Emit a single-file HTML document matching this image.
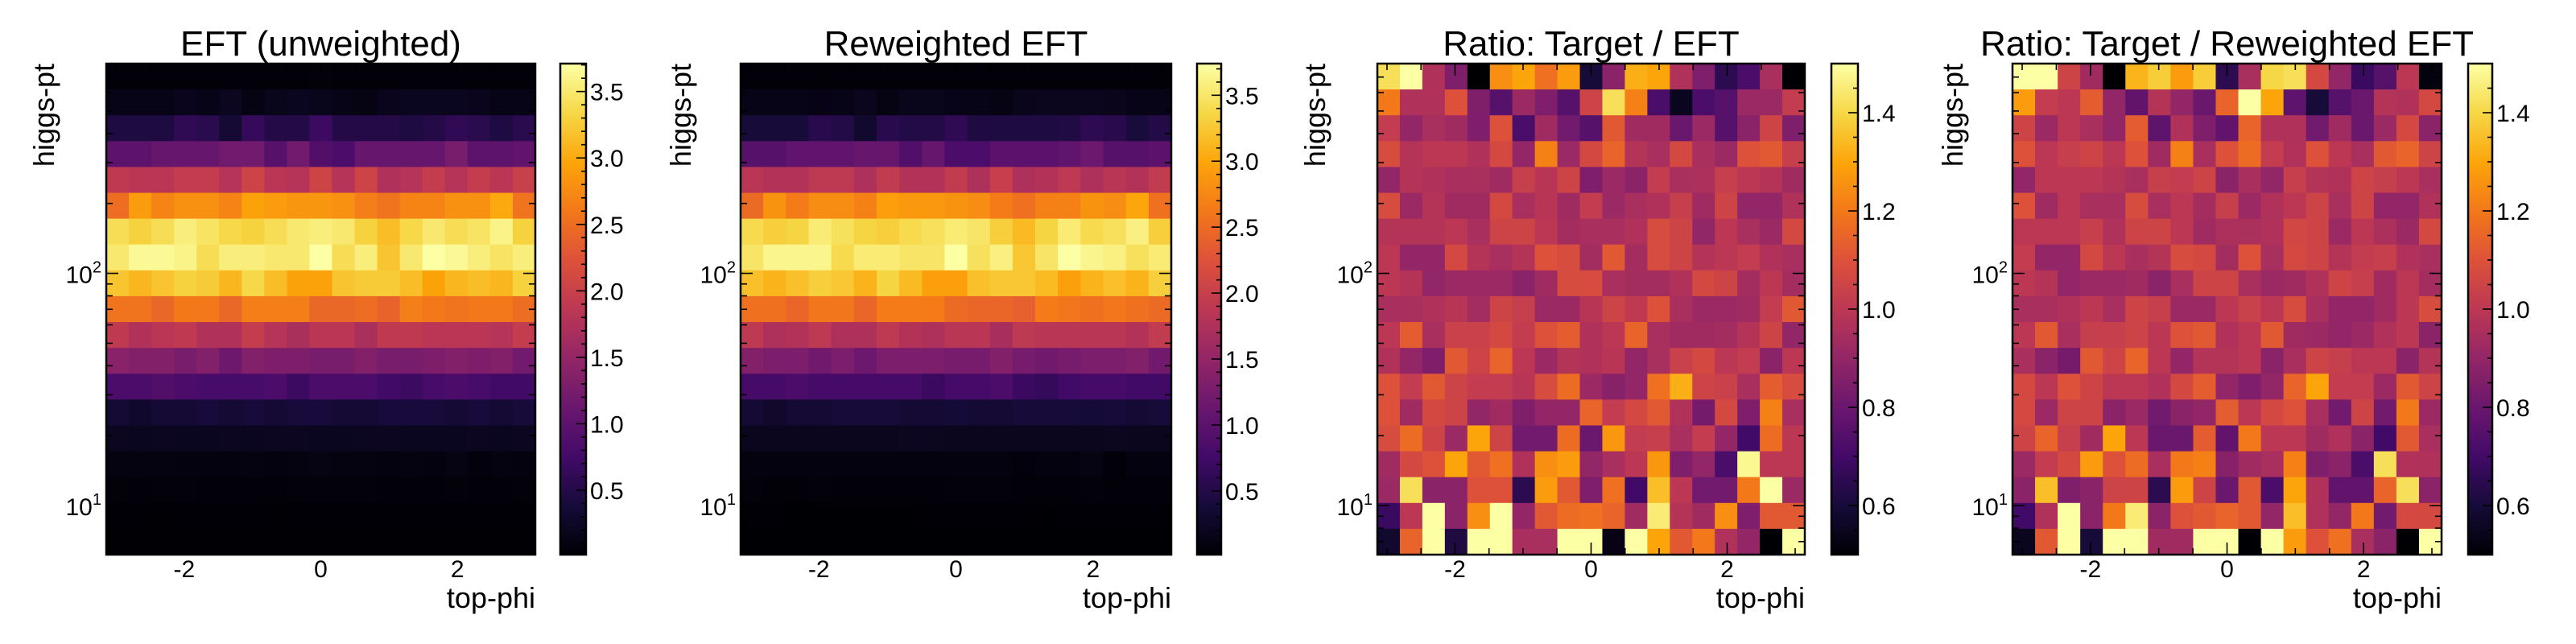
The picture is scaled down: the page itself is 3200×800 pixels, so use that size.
<!DOCTYPE html>
<html><head><meta charset="utf-8"><style>
html,body{margin:0;padding:0;background:#fff;}
svg{display:block;font-family:"Liberation Sans",Arial,sans-serif;}
</style></head><body>
<svg id="fig" width="3200" height="800" viewBox="0 0 3200 800" xmlns="http://www.w3.org/2000/svg"></svg>
<script>
// ---------- data (rows top -> bottom, i.e. high higgs-pt first; 19 x 19 bins) ----------
const xEdgesMin = -Math.PI, xEdgesMax = Math.PI;
const yMin = 6.15, yMax = 800;
const nBins = 19;
const xTickValues = [-2, 0, 2];
const xTickLabels = ["-2", "0", "2"];
const yTickExp = [1, 2];
const cbTicksEFT = [0.5, 1.0, 1.5, 2.0, 2.5, 3.0, 3.5];
const cbTicksEFTLabels = ["0.5", "1.0", "1.5", "2.0", "2.5", "3.0", "3.5"];
const cbTicksRatio = [0.6, 0.8, 1.0, 1.2, 1.4];
const cbTicksRatioLabels = ["0.6", "0.8", "1.0", "1.2", "1.4"];
const titles = ["EFT (unweighted)", "Reweighted EFT", "Ratio: Target / EFT", "Ratio: Target / Reweighted EFT"];

const eftUnweighted = [
[0.05,0.05,0.05,0.05,0.05,0.05,0.05,0.05,0.05,0.06,0.05,0.05,0.05,0.05,0.05,0.05,0.05,0.05,0.05],
[0.15,0.15,0.15,0.18,0.15,0.22,0.12,0.17,0.2,0.17,0.15,0.12,0.18,0.2,0.2,0.2,0.18,0.15,0.15],
[0.45,0.45,0.45,0.6,0.55,0.35,0.65,0.5,0.5,0.7,0.5,0.5,0.5,0.45,0.5,0.6,0.55,0.45,0.55],
[1.0,1.0,1.1,1.1,1.1,1.2,1.2,0.95,1.2,0.9,0.85,1.1,1.1,1.1,1.1,1.25,1.0,1.0,1.05],
[1.9,1.85,1.85,1.95,1.95,1.8,2.05,1.85,1.8,2.05,1.8,2.05,1.75,1.8,1.95,1.8,1.95,1.85,2.0],
[2.5,2.9,2.7,2.8,2.8,2.7,2.95,2.9,2.85,2.85,2.8,2.65,2.55,2.7,2.7,2.8,2.8,3.0,2.55],
[3.4,3.3,3.4,3.55,3.45,3.35,3.3,3.4,3.5,3.55,3.5,3.3,3.15,3.35,3.5,3.4,3.45,3.6,3.3],
[3.5,3.65,3.65,3.6,3.4,3.55,3.55,3.5,3.5,3.75,3.4,3.55,3.2,3.5,3.75,3.65,3.55,3.45,3.55],
[3.2,3.1,3.2,3.3,3.25,3.1,3.35,3.15,2.95,2.95,3.2,3.25,3.25,3.15,2.95,3.1,3.15,3.1,3.3],
[2.55,2.55,2.45,2.6,2.6,2.45,2.65,2.65,2.65,2.45,2.45,2.5,2.4,2.65,2.6,2.55,2.6,2.6,2.5],
[1.9,1.75,1.85,1.9,1.75,1.75,1.95,1.8,1.7,1.85,1.85,1.7,1.9,1.9,1.85,1.85,1.85,1.8,1.95],
[1.4,1.35,1.35,1.25,1.35,1.15,1.35,1.3,1.3,1.25,1.25,1.35,1.25,1.25,1.3,1.35,1.3,1.35,1.2],
[0.85,0.85,0.9,0.85,0.8,0.8,0.8,0.85,0.7,0.85,0.85,0.85,0.75,0.7,0.8,0.85,0.8,0.75,0.75],
[0.35,0.3,0.35,0.35,0.4,0.35,0.4,0.35,0.4,0.4,0.35,0.35,0.4,0.4,0.4,0.35,0.4,0.35,0.4],
[0.22,0.2,0.22,0.2,0.2,0.22,0.2,0.22,0.22,0.2,0.2,0.22,0.22,0.2,0.2,0.2,0.22,0.2,0.22],
[0.1,0.1,0.1,0.09,0.09,0.09,0.1,0.09,0.1,0.11,0.1,0.1,0.09,0.1,0.09,0.12,0.07,0.1,0.09],
[0.06,0.05,0.06,0.06,0.05,0.05,0.05,0.05,0.06,0.06,0.06,0.06,0.05,0.05,0.05,0.06,0.05,0.05,0.06],
[0.03,0.03,0.02,0.03,0.03,0.03,0.03,0.02,0.03,0.03,0.03,0.03,0.03,0.03,0.03,0.03,0.03,0.03,0.03],
[0.02,0.02,0.02,0.02,0.02,0.02,0.02,0.02,0.02,0.02,0.02,0.02,0.02,0.02,0.02,0.02,0.02,0.02,0.02]
];
const eftReweighted = [
[0.05,0.05,0.05,0.05,0.05,0.05,0.05,0.05,0.05,0.05,0.05,0.05,0.05,0.05,0.05,0.05,0.05,0.05,0.05],
[0.15,0.15,0.15,0.13,0.15,0.2,0.12,0.17,0.17,0.15,0.15,0.12,0.18,0.2,0.2,0.2,0.18,0.15,0.15],
[0.4,0.4,0.4,0.55,0.5,0.32,0.55,0.5,0.5,0.62,0.45,0.45,0.45,0.45,0.48,0.58,0.55,0.42,0.5],
[0.95,0.95,1.05,1.05,1.05,1.1,1.1,0.9,1.1,0.85,0.85,1.0,1.0,1.0,1.05,1.15,0.95,0.95,1.0],
[1.85,1.8,1.8,1.9,1.9,1.75,1.95,1.8,1.8,1.95,1.75,2.0,1.75,1.8,1.9,1.75,1.85,1.8,1.95],
[2.5,2.85,2.65,2.8,2.8,2.7,2.95,2.9,2.9,2.85,2.8,2.65,2.55,2.7,2.7,2.85,2.8,3.0,2.55],
[3.4,3.3,3.35,3.55,3.45,3.35,3.3,3.4,3.45,3.55,3.5,3.3,3.15,3.35,3.55,3.4,3.45,3.6,3.3],
[3.5,3.65,3.65,3.65,3.4,3.55,3.55,3.5,3.5,3.75,3.45,3.6,3.25,3.5,3.75,3.65,3.6,3.45,3.55],
[3.2,3.1,3.2,3.3,3.25,3.1,3.35,3.15,2.95,2.95,3.2,3.25,3.25,3.15,2.95,3.1,3.2,3.1,3.3],
[2.55,2.55,2.45,2.6,2.6,2.45,2.65,2.65,2.65,2.5,2.45,2.45,2.4,2.65,2.6,2.55,2.6,2.55,2.5],
[1.9,1.75,1.8,1.9,1.75,1.75,1.9,1.8,1.75,1.85,1.85,1.7,1.9,1.85,1.85,1.85,1.85,1.8,1.95],
[1.35,1.3,1.3,1.2,1.3,1.15,1.3,1.3,1.3,1.25,1.25,1.35,1.25,1.2,1.25,1.3,1.3,1.35,1.2],
[0.8,0.8,0.85,0.8,0.8,0.8,0.8,0.8,0.7,0.8,0.8,0.85,0.7,0.65,0.75,0.8,0.8,0.75,0.75],
[0.35,0.3,0.35,0.35,0.4,0.4,0.4,0.35,0.35,0.38,0.35,0.35,0.4,0.4,0.4,0.38,0.4,0.35,0.4],
[0.2,0.2,0.2,0.2,0.2,0.2,0.2,0.22,0.22,0.2,0.2,0.2,0.2,0.2,0.2,0.2,0.22,0.2,0.2],
[0.1,0.1,0.1,0.09,0.09,0.09,0.09,0.09,0.1,0.1,0.1,0.1,0.07,0.1,0.09,0.12,0.05,0.1,0.09],
[0.06,0.04,0.04,0.06,0.05,0.05,0.05,0.05,0.05,0.06,0.06,0.06,0.05,0.05,0.05,0.07,0.05,0.05,0.05],
[0.03,0.03,0.02,0.02,0.02,0.02,0.02,0.02,0.03,0.03,0.03,0.03,0.03,0.02,0.03,0.03,0.03,0.03,0.03],
[0.02,0.02,0.02,0.02,0.02,0.02,0.02,0.02,0.02,0.02,0.02,0.02,0.02,0.02,0.02,0.02,0.02,0.02,0.02]
];
const ratioEFT = [
[1.42,1.5,0.97,0.85,0.5,1.25,1.3,1.18,1.28,0.6,0.88,1.32,1.3,0.97,0.85,0.65,0.72,0.95,0.5],
[1.2,0.97,0.97,1.1,0.85,0.75,0.92,0.85,0.75,1.05,1.42,1.22,0.72,0.55,0.72,0.75,0.92,0.92,1.02],
[1.02,0.9,0.95,0.93,0.85,1.1,0.72,0.93,0.82,0.75,1.12,0.93,0.93,0.8,0.92,0.75,0.88,1.05,0.85],
[1.08,0.98,1.0,1.0,0.97,1.07,0.9,1.22,0.92,1.07,1.15,0.98,0.95,1.07,0.95,0.92,1.1,1.12,1.03],
[0.9,0.98,0.97,0.95,0.95,0.93,1.03,0.99,1.05,0.85,0.92,0.88,1.02,0.95,0.96,1.03,1.0,0.98,0.93],
[1.08,0.92,0.98,0.93,0.93,1.07,0.95,0.99,0.93,1.02,0.92,0.95,0.97,1.03,0.93,1.05,0.9,0.9,0.97],
[0.98,0.98,0.98,1.0,0.95,1.05,1.05,1.0,0.94,0.95,0.95,0.97,1.08,1.05,0.9,1.0,0.95,0.92,1.07],
[1.0,0.9,0.9,1.07,0.98,0.95,0.98,1.1,1.08,0.94,1.12,0.94,1.08,1.05,0.98,1.0,1.02,0.97,0.95],
[1.0,0.98,0.9,0.92,0.92,0.92,0.88,0.93,1.08,1.08,0.95,0.94,0.94,0.97,1.07,1.05,0.94,1.0,0.94],
[0.95,0.95,0.97,0.99,0.94,1.05,1.03,0.92,0.92,0.99,1.05,1.01,1.1,0.95,0.92,0.92,0.93,1.02,1.12],
[1.0,1.13,0.95,1.04,1.04,1.07,1.02,1.1,1.13,0.97,1.0,1.15,0.95,0.93,0.93,0.94,0.98,1.05,0.9],
[0.97,0.9,0.85,1.12,1.05,1.15,1.0,0.92,0.98,0.97,0.99,0.9,0.95,1.04,1.07,1.0,1.02,0.88,1.0],
[1.1,1.02,1.12,1.05,1.02,1.02,0.99,1.08,1.17,0.92,0.87,0.9,1.18,1.32,1.05,1.04,0.95,1.13,1.08],
[1.1,0.93,1.07,1.05,0.9,0.93,0.85,0.9,0.9,1.15,1.02,1.07,1.12,0.97,0.83,1.07,0.85,1.22,0.95],
[1.08,1.17,1.05,0.92,1.3,1.05,0.82,0.82,1.17,0.8,1.27,1.02,1.03,0.95,1.02,0.9,0.7,1.17,1.0],
[0.93,1.07,1.1,1.3,1.12,1.18,0.97,1.25,1.28,0.9,0.95,1.0,1.27,0.85,0.9,0.72,1.48,1.0,1.0],
[0.92,1.42,0.88,0.88,1.1,1.1,0.65,1.28,1.12,0.85,1.18,0.7,1.35,1.0,0.82,0.82,1.2,1.5,0.92],
[0.68,1.0,1.5,0.88,1.25,1.5,0.9,1.12,1.17,1.18,1.15,0.93,1.45,0.98,0.93,1.25,0.85,1.12,1.12],
[0.58,1.15,1.5,0.62,1.5,1.5,0.95,0.95,1.5,1.5,0.53,1.5,1.3,1.12,1.2,0.97,0.9,0.5,1.5]
];
const ratioReweighted = [
[1.5,1.5,1.05,0.93,0.5,1.33,1.38,1.28,1.38,0.65,0.95,1.4,1.42,1.07,0.9,0.68,0.75,1.0,0.52],
[1.28,1.02,1.0,1.13,0.9,0.78,0.98,0.9,0.8,1.15,1.5,1.3,0.77,0.6,0.75,0.8,0.98,0.97,1.07],
[1.05,0.92,1.0,0.95,0.9,1.13,0.77,0.97,0.85,0.78,1.15,0.97,0.97,0.82,0.93,0.8,0.92,1.07,0.88],
[1.1,1.0,1.03,1.05,1.0,1.1,0.93,1.22,0.95,1.1,1.17,1.02,0.97,1.1,1.0,0.95,1.12,1.15,1.05],
[0.9,1.0,1.0,1.0,0.98,0.95,1.03,1.02,1.05,0.88,0.95,0.9,1.03,0.98,0.97,1.05,1.03,1.0,0.95],
[1.1,0.93,1.0,0.95,0.95,1.08,0.95,1.0,0.94,1.03,0.92,0.97,1.0,1.05,0.95,1.05,0.9,0.9,0.97],
[1.0,1.0,1.0,1.03,0.97,1.05,1.05,1.0,0.93,0.96,0.96,0.97,1.06,1.05,0.92,1.0,0.96,0.92,1.07],
[1.02,0.9,0.9,1.07,1.0,0.95,0.98,1.08,1.07,0.94,1.1,0.95,1.07,1.05,0.98,1.02,1.03,0.97,0.95],
[1.0,0.98,0.9,0.92,0.92,0.93,0.88,0.95,1.05,1.05,0.95,0.92,0.93,0.97,1.05,1.03,0.93,1.0,0.94],
[0.95,0.95,0.97,1.0,0.95,1.05,1.03,0.92,0.92,1.0,1.04,1.0,1.08,0.95,0.9,0.9,0.93,1.0,1.08],
[1.0,1.12,0.95,1.03,1.03,1.05,1.0,1.1,1.12,0.97,1.0,1.12,0.93,0.92,0.9,0.92,0.97,1.0,0.88],
[0.95,0.88,0.83,1.12,1.05,1.15,1.0,0.9,0.98,0.98,1.0,0.88,0.95,1.05,1.03,1.0,1.0,0.88,0.98],
[1.07,1.0,1.1,1.05,1.0,1.0,0.97,1.07,1.13,0.9,0.85,0.9,1.15,1.3,1.02,1.02,0.92,1.12,1.05],
[1.07,0.92,1.05,1.05,0.88,0.92,0.82,0.88,0.9,1.13,1.0,1.07,1.1,0.95,0.82,1.05,0.82,1.2,0.92],
[1.05,1.15,1.03,0.93,1.3,1.0,0.8,0.8,1.13,0.78,1.2,1.0,1.0,0.93,0.97,0.88,0.7,1.12,0.95],
[0.92,1.02,1.07,1.28,1.1,1.17,0.95,1.2,1.22,0.87,0.93,0.95,1.22,0.85,0.88,0.72,1.42,0.97,0.97],
[0.88,1.35,0.85,0.88,1.05,1.05,0.65,1.28,1.05,0.8,1.12,0.72,1.3,0.97,0.78,0.78,1.15,1.42,0.88],
[0.7,0.97,1.5,0.88,1.2,1.45,0.88,1.1,1.12,1.15,1.12,0.9,1.35,0.97,0.9,1.2,0.82,1.07,1.07],
[0.55,1.12,1.5,0.6,1.5,1.5,0.93,0.93,1.5,1.5,0.5,1.5,1.28,1.1,1.18,0.95,0.88,0.5,1.5]
];

// ---------- rendering ----------
const NS = "http://www.w3.org/2000/svg";
const svg = document.getElementById("fig");
const infernoStops = ["#000004","#160b39","#420a68","#6a176e","#932667","#bc3754","#dd513a","#f37819","#fca50a","#f6d746","#fcffa4"];
function hex(h){return [parseInt(h.slice(1,3),16),parseInt(h.slice(3,5),16),parseInt(h.slice(5,7),16)];}
const infernoRGB = infernoStops.map(hex);
function inferno(t){
  t = Math.max(0, Math.min(1, t));
  const p = t * 10, i = Math.min(9, Math.floor(p)), f = p - i;
  const a = infernoRGB[i], b = infernoRGB[i+1];
  return "rgb(" + [0,1,2].map(k => Math.round(a[k] + (b[k]-a[k])*f)).join(",") + ")";
}
function el(tag, attrs, parent){
  const e = document.createElementNS(NS, tag);
  for (const k in attrs) e.setAttribute(k, attrs[k]);
  (parent || svg).appendChild(e);
  return e;
}
const Y0 = 79, Y1 = 689;
function yScale(v){ // log scale
  return Y1 - (Math.log10(v) - Math.log10(yMin)) / (Math.log10(yMax) - Math.log10(yMin)) * (Y1 - Y0);
}

const panels = [
  {ax:[132,665], cb:[696,728], vmin:0.015, vmax:3.71, data:eftUnweighted, ticks:cbTicksEFT, tlabels:cbTicksEFTLabels, minorStep:0.1, ylab:67, name:"eft-unweighted"},
  {ax:[920,1455], cb:[1487,1517], vmin:0.017, vmax:3.74, data:eftReweighted, ticks:cbTicksEFT, tlabels:cbTicksEFTLabels, minorStep:0.1, ylab:858, name:"reweighted-eft"},
  {ax:[1711,2242], cb:[2275,2308], vmin:0.5, vmax:1.5, data:ratioEFT, ticks:cbTicksRatio, tlabels:cbTicksRatioLabels, minorStep:0.05, ylab:1646, name:"ratio-target-eft"},
  {ax:[2500,3033], cb:[3066,3096], vmin:0.5, vmax:1.5, data:ratioReweighted, ticks:cbTicksRatio, tlabels:cbTicksRatioLabels, minorStep:0.05, ylab:2438, name:"ratio-target-reweighted"}
];

panels.forEach((P, pi) => {
  const g = el("g", {});
  
  
  const [x0, x1] = P.ax;
  const xScale = v => x0 + (v - xEdgesMin) / (xEdgesMax - xEdgesMin) * (x1 - x0);
  const ly0 = Math.log10(yMin), ly1 = Math.log10(yMax);
  const cells = el("g", {}, g);
  
  
  for (let r = 0; r < nBins; r++) {
    // row r is top->bottom; bin index from bottom = nBins-1-r
    const bi = nBins - 1 - r;
    const yb = Math.pow(10, ly0 + (ly1 - ly0) * bi / nBins);
    const yt = Math.pow(10, ly0 + (ly1 - ly0) * (bi + 1) / nBins);
    for (let c = 0; c < nBins; c++) {
      const xl = xEdgesMin + (xEdgesMax - xEdgesMin) * c / nBins;
      const xr = xEdgesMin + (xEdgesMax - xEdgesMin) * (c + 1) / nBins;
      const v = P.data[r][c];
      const rx = xScale(xl), ry = yScale(yt);
      const rect = el("rect", {x: rx.toFixed(2), y: ry.toFixed(2), width: (xScale(xr) - rx + 0.6).toFixed(2), height: (yScale(yb) - ry + 0.6).toFixed(2), fill: inferno((v - P.vmin) / (P.vmax - P.vmin))}, cells);
      
      
    }
  }
  // frame
  const frame = el("rect", {x:x0, y:Y0, width:x1-x0, height:Y1-Y0, fill:"none", stroke:"#000", "stroke-width":2.5}, g);
  
  
  const tk = el("g", {stroke:"#000", "stroke-width":1.6}, g);
  // x ticks major/minor
  for (let v = -3; v <= 3.001; v += 0.5) {
    const X = xScale(v), major = Math.abs(v % 2) < 1e-6 && Math.abs(v) <= 2;
    const L = major ? 15 : 8;
    el("line", {x1:X, x2:X, y1:Y1, y2:Y1-L}, tk);
    el("line", {x1:X, x2:X, y1:Y0, y2:Y0+L}, tk);
  }
  xTickValues.forEach((v, i) => {
    const t = el("text", {x:xScale(v), y:717, "font-size":30, "text-anchor":"middle"}, g);
    t.textContent = xTickLabels[i];
    
    
  });
  // y ticks (log)
  for (let d = 0; d <= 2; d++) for (let m = 1; m <= 9; m++) {
    const v = m * Math.pow(10, d);
    if (v < yMin || v > yMax) continue;
    const Y = yScale(v), L = m === 1 ? 15 : 8;
    el("line", {x1:x0, x2:x0+L, y1:Y, y2:Y}, tk);
    el("line", {x1:x1, x2:x1-L, y1:Y, y2:Y}, tk);
  }
  yTickExp.forEach(e => {
    const Y = yScale(Math.pow(10, e));
    const t = el("text", {x:x0-6, y:Y+12, "font-size":30, "text-anchor":"end"}, g);
    
    
    const base = el("tspan", {}, t); base.textContent = "10";
    const sup = el("tspan", {"font-size":20, dy:-13}, t); sup.textContent = String(e);
  });
  // title
  const title = el("text", {x:(x0+x1)/2, y:69, "font-size":44, "text-anchor":"middle"}, g);
  title.textContent = titles[pi];
  
  
  // axis labels
  const xl = el("text", {x:x1, y:755, "font-size":36, "text-anchor":"end"}, g);
  xl.textContent = "top-phi";
  
  
  const yl = el("text", {x:0, y:0, "font-size":36, "text-anchor":"end", transform:"translate(" + P.ylab + "," + Y0 + ") rotate(-90)"}, g);
  yl.textContent = "higgs-pt";
  
  
  // colorbar
  const [c0, c1] = P.cb;
  const cbScale = v => Y1 - (v - P.vmin) / (P.vmax - P.vmin) * (Y1 - Y0);
  const cbg = el("g", {}, g);
  
  
  const steps = 200;
  for (let s = 0; s < steps; s++) {
    const ya = Y1 - (Y1 - Y0) * (s + 1) / steps;
    el("rect", {x:c0, y:ya.toFixed(2), width:c1-c0, height:((Y1-Y0)/steps + 0.6).toFixed(2), fill:inferno((s + 0.5) / steps)}, cbg);
  }
  el("rect", {x:c0, y:Y0, width:c1-c0, height:Y1-Y0, fill:"none", stroke:"#000", "stroke-width":2.5}, cbg);
  const ctk = el("g", {stroke:"#000", "stroke-width":1.6}, cbg);
  const start = Math.ceil(P.vmin / P.minorStep - 1e-6) * P.minorStep;
  for (let v = start; v <= P.vmax + 1e-9; v += P.minorStep) {
    const isMajor = P.ticks.some(t => Math.abs(t - v) < 1e-6);
    el("line", {x1:c1, x2:c1 - (isMajor ? 12 : 6), y1:cbScale(v), y2:cbScale(v)}, ctk);
  }
  P.ticks.forEach((v, i) => {
    const t = el("text", {x:c1+5, y:cbScale(v)+11, "font-size":30}, cbg);
    t.textContent = P.tlabels[i];
    
    
  });
});
</script>
</body></html>
